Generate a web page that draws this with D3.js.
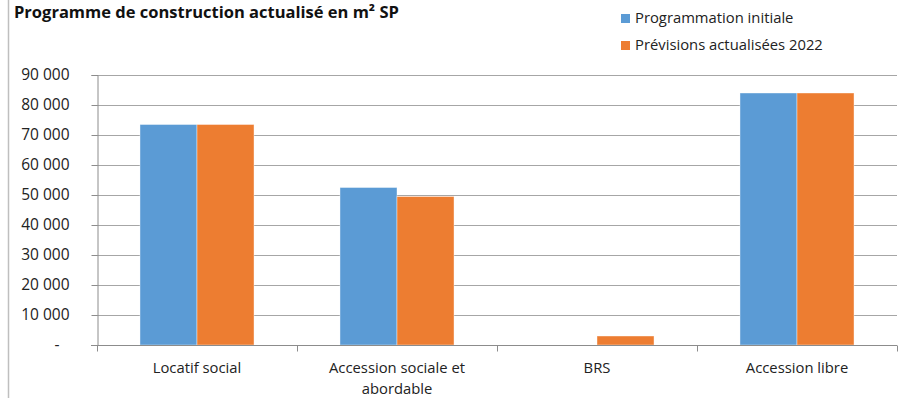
<!DOCTYPE html>
<html><head><meta charset="utf-8">
<script src="https://cdn.jsdelivr.net/npm/d3@7"></script>
<style>body{margin:0;background:#fff}svg{display:block;font-family:"Open Sans",sans-serif;font-variant-ligatures:none}</style>
</head><body><svg id="c" width="899" height="403"></svg>
<script>
const categories = [["Locatif social"], ["Accession sociale et", "abordable"], ["BRS"], ["Accession libre"]];
const seriesNames = ["Programmation initiale", "Prévisions actualisées 2022"];
const initiale = [73500, 52500, 0, 84000];
const actualisees = [73500, 49500, 3000, 84000];
const yTicks = [0, 10000, 20000, 30000, 40000, 50000, 60000, 70000, 80000, 90000];
const colors = ["#5B9BD5", "#ED7D31"];
const title = "Programme de construction actualisé en m² SP";

const svg = d3.select("#c");
const m = {l: 97, r: 897, t: 75, b: 345};
const x = d3.scaleBand().domain(categories.map((d,i)=>i)).range([m.l, m.r]).paddingInner(0).paddingOuter(0);
const inner = d3.scaleBand().domain([0,1]).range([0, x.bandwidth()]).paddingOuter(0.754).paddingInner(0);
const y = d3.scaleLinear().domain([0, 90000]).range([m.b, m.t]);

svg.append("line").attr("x1",8.5).attr("x2",8.5).attr("y1",0).attr("y2",398).attr("stroke","#bfbfbf").attr("stroke-width",1.5);

// gridlines
svg.append("g").selectAll("line").data(yTicks.slice(1)).join("line")
  .attr("x1", m.l).attr("x2", m.r).attr("y1", d=>Math.round(y(d))+0.5).attr("y2", d=>Math.round(y(d))+0.5)
  .attr("stroke","#a6a6a6").attr("stroke-width",1);

// bars
const series = [initiale, actualisees];
series.forEach((vals, s) => {
  svg.append("g").selectAll("rect").data(vals).join("rect")
    .attr("x", (d,i)=>x(i)+inner(s))
    .attr("width", inner.bandwidth())
    .attr("y", d=>y(d))
    .attr("height", d=>y(0)-y(d))
    .attr("fill", colors[s])
    .attr("stroke", d=> d>0 ? "rgba(255,255,255,0.5)" : "none").attr("stroke-width",0.8);
});

// y axis
const ya = svg.append("g").attr("transform",`translate(${m.l+0.5},0)`)
  .call(d3.axisLeft(y).tickValues(yTicks).tickSize(6).tickPadding(22)
    .tickFormat(d=> d===0 ? "-" : d3.format(",")(d).replace(/,/g," ")));
ya.selectAll("path,line").attr("stroke","#8c8c8c");
ya.selectAll("text").attr("font-size",15.5).attr("fill","#222").attr("font-family","'Open Sans', sans-serif");
ya.selectAll(".tick text").filter(d=>d===0).attr("dx",-10);

// x axis
const xa = svg.append("g").attr("transform",`translate(0,${m.b+0.5})`);
xa.append("line").attr("x1",m.l-6).attr("x2",m.r).attr("stroke","#8c8c8c");
const bounds = d3.range(categories.length+1).map(i=> i<categories.length ? x(i) : m.r);
xa.selectAll("line.t").data(bounds).join("line").attr("class","t")
  .attr("x1",d=>d+0.5).attr("x2",d=>d+0.5).attr("y1",0).attr("y2",6).attr("stroke","#8c8c8c");
categories.forEach((lines,i)=>{
  const t = xa.append("text").attr("text-anchor","middle").attr("font-size",14.8).attr("fill","#222")
    .attr("transform",`translate(${x(i)+x.bandwidth()/2},27)`);
  lines.forEach((l,j)=> t.append("tspan").attr("x",0).attr("dy", j===0?0:21).text(l));
});

// title
svg.append("text").attr("x",14).attr("y",18).attr("font-size",16.5).attr("font-weight","bold").attr("fill","#111").text(title);

// legend
const lg = svg.append("g");
seriesNames.forEach((n,i)=>{
  lg.append("rect").attr("x",621).attr("y",14+i*27).attr("width",9).attr("height",9).attr("fill",colors[i]);
  lg.append("text").attr("x",635).attr("y",23+i*27).attr("font-size",14.8).attr("fill","#222").text(n);
});
</script></body></html>
